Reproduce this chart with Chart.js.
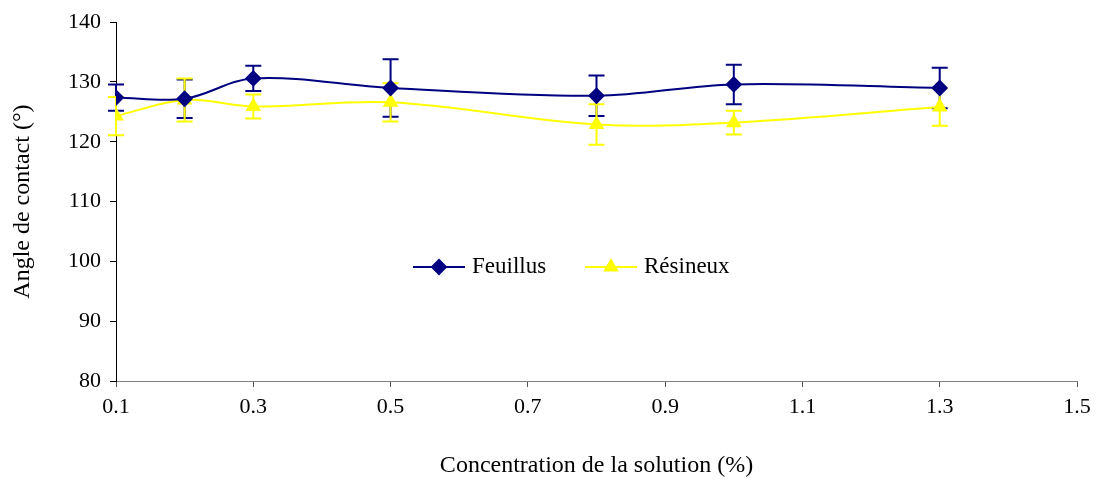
<!DOCTYPE html>
<html>
<head>
<meta charset="utf-8">
<script src="https://cdn.jsdelivr.net/npm/chart.js@4"></script>
<style>
  html, body { margin: 0; padding: 0; background: #fff; }
  #wrap { width: 1101px; height: 481px; }
</style>
</head>
<body>
<div id="wrap"><canvas id="c" width="1101" height="481"></canvas></div>
<script>
// concentrations (%)
const concentrations = [0.1, 0.2, 0.3, 0.5, 0.8, 1.0, 1.3];
// contact angle (deg) and error
const feuillus = [127.4, 127.2, 130.6, 129.0, 127.7, 129.6, 129.0];
const feuillusErr = [2.2, 3.2, 2.1, 4.8, 3.4, 3.3, 3.4];
const resineux = [124.3, 127.0, 125.9, 126.6, 122.9, 123.2, 125.8];
const resineuxErr = [3.2, 3.6, 2.0, 3.2, 3.4, 2.0, 3.1];
const xTicks = [0.1, 0.3, 0.5, 0.7, 0.9, 1.1, 1.3, 1.5];
const yTicks = [80, 90, 100, 110, 120, 130, 140];

const serif = "'Liberation Serif', 'DejaVu Serif', serif";

function pts(vals) {
    return concentrations.map((x, i) => ({ x: x, y: vals[i] }));
}

// error bars drawn through the scales
const errorBars = {
    id: 'errorBars',
    beforeDatasetsDraw(chart) {
        const ctx = chart.ctx;
        const xs = chart.scales.x, ys = chart.scales.y;
        chart.data.datasets.forEach(ds => {
            ctx.save();
            ctx.strokeStyle = ds.borderColor;
            ctx.lineWidth = 2;
            ds.data.forEach((p, i) => {
                const px = xs.getPixelForValue(p.x);
                const top = ys.getPixelForValue(p.y + ds.errors[i]);
                const bot = ys.getPixelForValue(p.y - ds.errors[i]);
                ctx.beginPath();
                ctx.moveTo(px, top); ctx.lineTo(px, bot);
                ctx.moveTo(px - 8, top); ctx.lineTo(px + 8, top);
                ctx.moveTo(px - 8, bot); ctx.lineTo(px + 8, bot);
                ctx.stroke();
            });
            ctx.restore();
        });
    }
};

// legend inside the plot
const innerLegend = {
    id: 'innerLegend',
    afterDraw(chart) {
        const ctx = chart.ctx;
        const starts = [413, 585];
        const y = 267;
        chart.data.datasets.forEach((ds, i) => {
            const x0 = starts[i];
            ctx.save();
            ctx.strokeStyle = ds.borderColor;
            ctx.lineWidth = 2;
            ctx.beginPath();
            ctx.moveTo(x0, y); ctx.lineTo(x0 + 52, y);
            ctx.stroke();
            Chart.helpers.drawPoint(ctx, {
                pointStyle: ds.pointStyle, radius: ds.pointRadius, rotation: 0, borderWidth: 1
            }, x0 + 26, y);
            ctx.fillStyle = ds.pointBackgroundColor;
            ctx.strokeStyle = ds.borderColor;
            ctx.fill();
            ctx.fillStyle = '#000';
            ctx.font = '23px ' + serif;
            ctx.textBaseline = 'middle';
            ctx.fillText(ds.label, x0 + 59, y);
            ctx.restore();
        });
    }
};

new Chart(document.getElementById('c'), {
    type: 'line',
    data: {
        datasets: [{
            label: 'Feuillus',
            data: pts(feuillus),
            errors: feuillusErr,
            borderColor: '#000080',
            backgroundColor: '#000080',
            pointBackgroundColor: '#000080',
            pointBorderColor: '#000080',
            pointStyle: 'rectRot',
            pointRadius: 7,
            borderWidth: 2,
            tension: 0.35
        }, {
            label: 'Résineux',
            data: pts(resineux),
            errors: resineuxErr,
            borderColor: '#ffff00',
            backgroundColor: '#ffff00',
            pointBackgroundColor: '#ffff00',
            pointBorderColor: '#ffff00',
            pointStyle: 'triangle',
            pointRadius: 7,
            borderWidth: 2,
            tension: 0.35
        }]
    },
    options: {
        responsive: false,
        animation: false,
        layout: { padding: { top: 16, right: 24, left: 0, bottom: 0 } },
        plugins: { legend: { display: false }, tooltip: { enabled: false } },
        scales: {
            x: {
                type: 'linear',
                min: 0.1, max: 1.5,
                afterBuildTicks: s => { s.ticks = xTicks.map(v => ({ value: v })); },
                afterFit: s => { s.height = 100; },
                grid: { display: true, drawOnChartArea: false, drawTicks: true, tickLength: 6, tickColor: '#555' },
                border: { color: '#808080', width: 1 },
                ticks: {
                    color: '#000', padding: 7,
                    font: { family: serif, size: 22 },
                    callback: v => v.toFixed(1)
                },
                title: {
                    display: true, text: 'Concentration de la solution (%)',
                    color: '#000', font: { family: serif, size: 24 },
                    padding: { top: 0, bottom: 1 }
                }
            },
            y: {
                min: 80, max: 140,
                afterBuildTicks: s => { s.ticks = yTicks.map(v => ({ value: v })); },
                afterFit: s => { s.width = 116; },
                grid: { display: true, drawOnChartArea: false, drawTicks: true, tickLength: 6, tickColor: '#000' },
                border: { color: '#000', width: 1 },
                ticks: { color: '#000', padding: 9, font: { family: serif, size: 22 } },
                title: {
                    display: true, text: 'Angle de contact (°)',
                    color: '#000', font: { family: serif, size: 24 },
                    padding: { top: 8, bottom: 0 }
                }
            }
        }
    },
    plugins: [errorBars, innerLegend]
});
</script>
</body>
</html>
